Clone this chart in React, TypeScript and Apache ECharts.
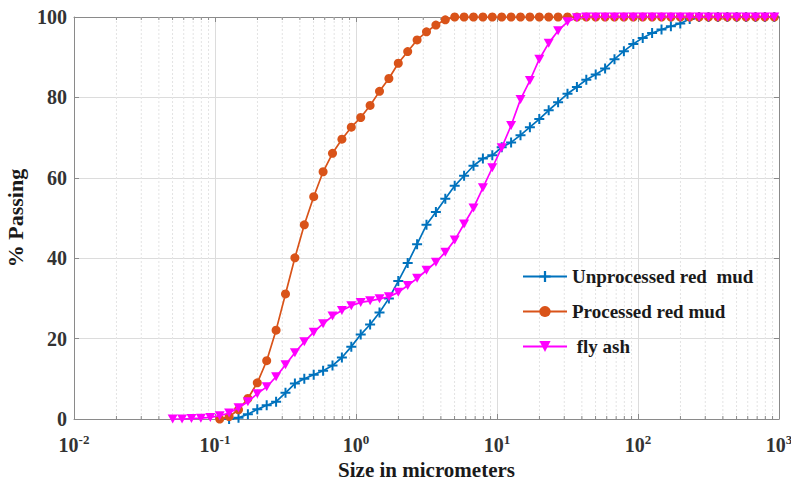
import React, { useEffect, useRef } from "react";
import * as echarts from "echarts";

// Particle sizes (micrometers), log-spaced bins
const sizes = [
  0.0501, 0.0584, 0.0681, 0.0794, 0.0926,
  0.108, 0.1259, 0.1468, 0.1711, 0.1995, 0.2326, 0.2712, 0.3162, 0.3687, 0.4299, 0.5012, 0.5843, 0.6813, 0.7943, 0.9261,
  1.08, 1.259, 1.468, 1.711, 1.995, 2.326, 2.712, 3.162, 3.687, 4.299, 5.012, 5.843, 6.813, 7.943, 9.261,
  10.8, 12.59, 14.68, 17.11, 19.95, 23.26, 27.12, 31.62, 36.87, 42.99, 50.12, 58.43, 68.13, 79.43, 92.61,
  108, 125.9, 146.8, 171.1, 199.5, 232.6, 271.2, 316.2, 368.7, 429.9, 501.2, 584.3, 681.3, 794.3, 926.1,
];

const unprocessed = [
  null, null, null, null, null,
  null, 0, 0.3, 1.2, 2.4, 3.4, 4.3, 6.5, 8.8, 10.0, 11.0, 12.0, 13.3, 15.3, 18.0,
  21.0, 23.5, 26.5, 30.0, 34.3, 38.8, 43.5, 48.3, 51.5, 54.8, 58.0, 60.5, 63.0, 64.8, 65.6,
  67.6, 68.8, 70.6, 72.6, 74.6, 76.8, 78.8, 80.9, 82.6, 84.4, 85.7, 87.2, 89.5, 91.5, 93.3,
  94.8, 96.0, 96.9, 97.7, 98.4, 99.5, 100, 100, 100, 100, 100, 100, 100, 100, 100,
];

const processed = [
  null, null, null, null, null,
  0, 0.6, 2.3, 5.1, 9.0, 14.5, 22.1, 31.1, 40.1, 48.3, 55.3, 61.5, 66.1, 69.6, 72.6,
  75.0, 78.0, 81.5, 84.7, 88.5, 91.4, 94.3, 96.3, 98.0, 99.3, 100, 100, 100, 100, 100,
  100, 100, 100, 100, 100, 100, 100, 100, 100, 100, 100, 100, 100, 100, 100,
  100, 100, 100, 100, 100, 100, 100, 100, 100, 100, 100, 100, 100, 100, 100,
];

const flyAsh = [
  0, 0, 0.1, 0.2, 0.4,
  0.8, 1.5, 2.8, 4.3, 6.3, 8.0, 10.5, 13.5, 16.5, 19.2, 21.6, 23.7, 25.6, 27.0, 28.2,
  29.0, 29.4, 29.9, 30.4, 31.5, 33.2, 35.0, 37.0, 39.0, 41.5, 44.5, 48.5, 52.5, 57.5, 62.5,
  67.5, 73.0, 79.5, 84.2, 89.5, 93.5, 96.6, 98.8, 99.8, 100, 100, 100, 100, 100, 100,
  100, 100, 100, 100, 100, 100, 100, 100, 100, 100, 100, 100, 100, 100, 100,
];

const seriesNames = ["Unprocessed red  mud", "Processed red mud", " fly ash"];

const minorTicks = [
  0.02, 0.03, 0.04, 0.05, 0.06, 0.07, 0.08, 0.09,
  0.2, 0.3, 0.4, 0.5, 0.6, 0.7, 0.8, 0.9,
  2, 3, 4, 5, 6, 7, 8, 9,
  20, 30, 40, 50, 60, 70, 80, 90,
  200, 300, 400, 500, 600, 700, 800, 900,
];

const FONT = "'Liberation Serif', 'Times New Roman', serif";
const AXIS_COLOR = "#8a8a8a";

export default function App() {
  const ref = useRef<HTMLDivElement>(null);

  useEffect(() => {
    document.body.style.margin = "0";
    if (!ref.current) return;
    const chart = echarts.init(ref.current, null, { renderer: "svg" });
    const pair = (arr: (number | null)[]) =>
      sizes.map((s, i) => [s, arr[i] === null ? null : arr[i]]);

    const option: any = {
      animation: false,
      backgroundColor: "#ffffff",
      grid: { left: 74, right: 12, top: 17, bottom: 62, outerBoundsMode: "none", containLabel: false },
      legend: {
        orient: "vertical",
        left: 522,
        top: 267,
        padding: 0,
        itemWidth: 44,
        itemHeight: 14,
        itemGap: 16,
        data: seriesNames,
        textStyle: { fontFamily: FONT, fontWeight: "bold", fontSize: 19, color: "#1a1a1a" },
      },
      xAxis: [
        {
          type: "log",
          logBase: 10,
          min: 0.01,
          max: 1000,
          axisLine: { show: true, onZero: false, lineStyle: { color: AXIS_COLOR, width: 1 } },
          axisTick: { show: true, inside: true, length: 5, lineStyle: { color: AXIS_COLOR } },
          splitLine: { show: true, lineStyle: { color: "#dcdcdc", width: 1 } },
          axisLabel: {
            margin: 14,
            formatter: (v: number) => {
              const e = Math.round(Math.log10(v));
              return "{b|10}{s|" + e + "}";
            },
            rich: {
              b: { fontFamily: FONT, fontWeight: "bold", fontSize: 20, color: "#333" },
              s: { fontFamily: FONT, fontWeight: "bold", fontSize: 13, color: "#333", padding: [0, 0, 10, 0] },
            },
          },
          name: "Size in micrometers",
          nameLocation: "middle",
          nameGap: 33,
          nameTextStyle: { fontFamily: FONT, fontWeight: "bold", fontSize: 21, color: "#1a1a1a" },
        },
        {
          type: "log",
          logBase: 10,
          min: 0.01,
          max: 1000,
          position: "top",
          axisLine: { show: true, onZero: false, lineStyle: { color: AXIS_COLOR, width: 1 } },
          axisTick: { show: true, inside: true, length: 5, lineStyle: { color: AXIS_COLOR } },
          axisLabel: { show: false },
          splitLine: { show: false },
        },
      ],
      yAxis: [
        {
          type: "value",
          min: 0,
          max: 100,
          interval: 20,
          axisLine: { show: true, lineStyle: { color: AXIS_COLOR, width: 1 } },
          axisTick: { show: true, inside: true, length: 5, lineStyle: { color: AXIS_COLOR } },
          splitLine: { show: true, lineStyle: { color: "#dcdcdc", width: 1 } },
          axisLabel: { margin: 7, fontFamily: FONT, fontWeight: "bold", fontSize: 20, color: "#333" },
          name: "% Passing",
          nameLocation: "middle",
          nameGap: 42,
          nameTextStyle: { fontFamily: FONT, fontWeight: "bold", fontSize: 22, color: "#1a1a1a" },
        },
        {
          type: "value",
          min: 0,
          max: 100,
          interval: 20,
          position: "right",
          axisLine: { show: true, lineStyle: { color: AXIS_COLOR, width: 1 } },
          axisTick: { show: true, inside: true, length: 5, lineStyle: { color: AXIS_COLOR } },
          axisLabel: { show: false },
          splitLine: { show: false },
        },
      ],
      series: [
        {
          type: "custom",
          silent: true,
          xAxisIndex: 0,
          yAxisIndex: 0,
          data: minorTicks.map((v) => [v, 0]),
          z: 1,
          renderItem: (params: any, api: any) => {
            const v = api.value(0);
            const b = api.coord([v, 0]);
            const t = api.coord([v, 100]);
            return {
              type: "group",
              children: [
                {
                  type: "line",
                  shape: { x1: b[0], y1: b[1], x2: t[0], y2: t[1] },
                  style: { stroke: "#e3e3e3", lineWidth: 1, lineDash: [2, 2] },
                },
                {
                  type: "line",
                  shape: { x1: b[0], y1: b[1], x2: b[0], y2: b[1] - 3 },
                  style: { stroke: AXIS_COLOR, lineWidth: 1 },
                },
                {
                  type: "line",
                  shape: { x1: t[0], y1: t[1], x2: t[0], y2: t[1] + 3 },
                  style: { stroke: AXIS_COLOR, lineWidth: 1 },
                },
              ],
            };
          },
        },
        {
          name: seriesNames[0],
          type: "line",
          data: pair(unprocessed),
          color: "#0072BD",
          symbol: "path://M4,0H6V4H10V6H6V10H4V6H0V4H4Z",
          symbolSize: 10,
          lineStyle: { width: 1.7 },
          z: 3,
        },
        {
          name: seriesNames[1],
          type: "line",
          data: pair(processed),
          color: "#D95319",
          symbol: "circle",
          symbolSize: 9,
          lineStyle: { width: 1.7 },
          z: 4,
        },
        {
          name: seriesNames[2],
          type: "line",
          data: pair(flyAsh),
          color: "#FF00FF",
          symbol: "path://M0,0L10,0L5,9Z",
          symbolSize: [10, 9],
          lineStyle: { width: 1.7 },
          z: 5,
        },
      ],
    };
    chart.setOption(option);
    return () => chart.dispose();
  }, []);

  return <div ref={ref} style={{ width: 791, height: 481 }} />;
}
